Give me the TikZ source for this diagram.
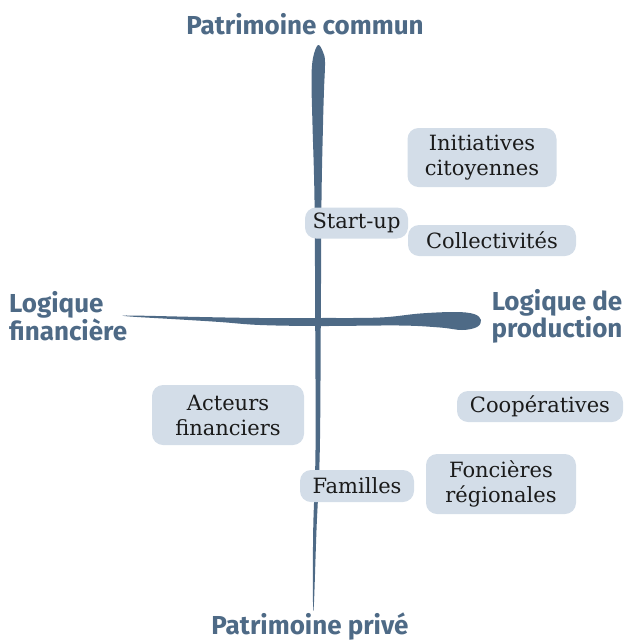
\documentclass[tikz,border=0pt]{standalone}
\usepackage{fontspec}
\setmainfont{DejaVu Serif}
\newfontfamily\labfont{Fira Sans}
\definecolor{axisc}{HTML}{4E6A86}
\definecolor{pillc}{HTML}{D3DDE8}
\definecolor{txtc}{HTML}{1A1A1A}
\begin{document}
\begin{tikzpicture}[x=1pt,y=-1pt,
  pill/.style={fill=pillc, rounded corners=11pt, inner sep=0pt, align=center,
    text=txtc, font=\fontsize{21}{25}\selectfont},
  axislabel/.style={text=axisc, font=\labfont\bfseries\fontsize{26}{27}\selectfont, inner sep=0pt}]
\useasboundingbox (0,0) rectangle (624,641);
% vertical axis stroke
\fill[axisc] plot[smooth cycle, tension=0.6] coordinates {
  (318,45) (323,52) (325,62) (324,90) (323,125) (321.5,200) (320.8,320)
  (319.8,450) (316.5,530) (314,602) (313,602) (313.2,530) (315.5,450)
  (315.2,320) (314.5,200) (312.5,125) (311.5,80) (313,58)};
% horizontal axis stroke
\fill[axisc] plot[smooth cycle, tension=0.6] coordinates {
  (130,315.5) (200,317) (260,318) (320,318) (380,317.5) (420,313.5) (455,312)
  (474,314) (481,320) (477,327) (462,330) (440,327.5) (400,325.5) (320,326)
  (260,325) (220,322) (180,319.5) (130,316.5)};
% axis labels
\node[axislabel] (top) at (305,24) {Patrimoine commun};
\node[axislabel] (bottom) at (310,627) {Patrimoine privé};
\node[axislabel, anchor=west, align=left] (left) at (9,316) {Logique\\financière};
\node[axislabel, align=center] (right) at (557,316) {Logique de\\production};
% actors
\node[pill, minimum width=149pt, minimum height=59pt] (ini) at (482,157.5) {Initiatives\\citoyennes};
\node[pill, minimum width=168pt, minimum height=31pt] (col) at (492,240.5) {Collectivités};
\node[pill, minimum width=103pt, minimum height=31pt] (start) at (356.5,223) {Start-up};
\node[pill, minimum width=152pt, minimum height=60pt] (act) at (228,415) {Acteurs\\financiers};
\node[pill, minimum width=166pt, minimum height=31pt] (coop) at (540,406.5) {Coopératives};
\node[pill, minimum width=114pt, minimum height=32pt] (fam) at (357,486) {Familles};
\node[pill, minimum width=150pt, minimum height=60pt] (fon) at (501,484) {Foncières\\régionales};
\end{tikzpicture}
\end{document}
